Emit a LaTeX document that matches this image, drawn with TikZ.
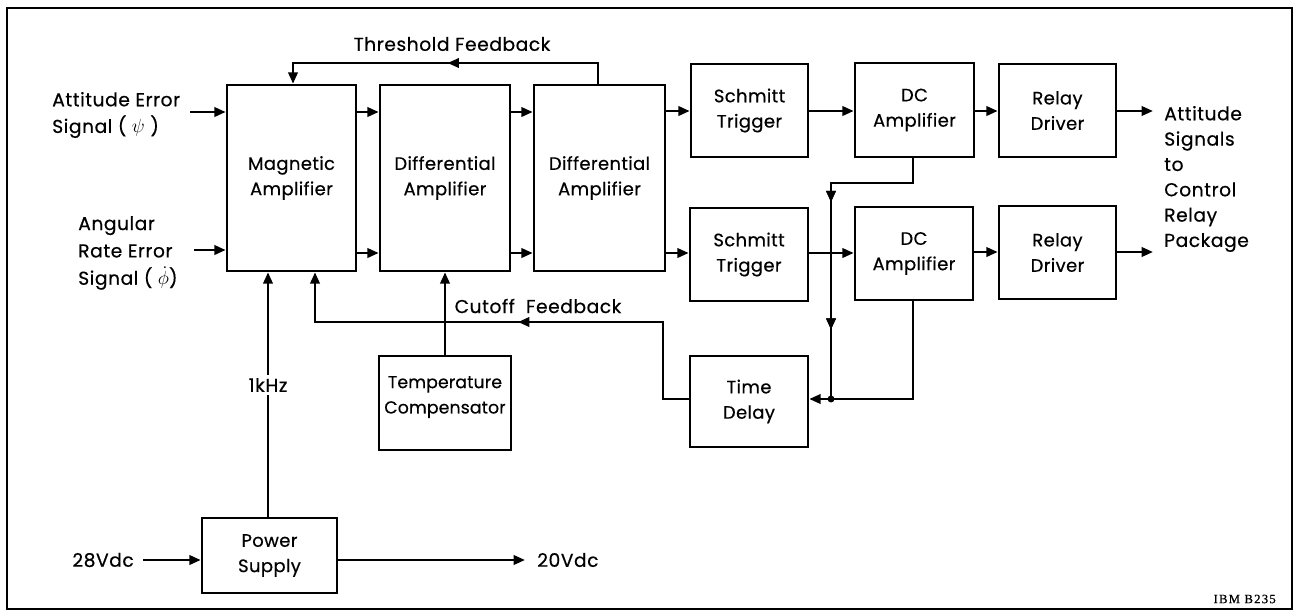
\documentclass[tikz,border=0pt]{standalone}
\usepackage{fontspec}
\setmainfont{Poppins}[FakeBold=0.5]
\newfontfamily\ibmfont{Liberation Serif}[FakeBold=0.8]
\usetikzlibrary{arrows.meta,decorations.markings}
\tikzset{
  blk/.style={draw, line width=1.9pt, inner sep=0pt, align=center, font=\boxlbl},
  arr/.style={line width=1.9pt, -{Triangle[length=8.5pt,width=7pt]}},
  ln/.style={line width=1.9pt},
  midarr/.style={postaction={decorate}, decoration={markings, mark=at position #1 with {\arrow{Triangle[length=8.5pt,width=7pt]}}}},
  txt/.style={inner sep=0pt, font=\lbl},
}
\newcommand{\lbl}{\fontsize{14}{19}\selectfont\addfontfeature{LetterSpace=3}}
\newcommand{\boxlbl}{\fontsize{13.5}{19}\selectfont\addfontfeature{LetterSpace=2}}
\begin{document}
\begin{tikzpicture}[x=0.75pt,y=-0.75pt]
\useasboundingbox (0,0) rectangle (1300,612);
\draw[line width=1.6pt] (7,8) rectangle (1292,609);

% blocks
\node[blk, minimum width=96.75pt, minimum height=139.5pt] (mag) at (291.5,178) {Magnetic\\Amplifier};
\node[blk, minimum width=97.5pt, minimum height=139.5pt] (da1) at (445,178) {Differential\\Amplifier};
\node[blk, minimum width=98.25pt, minimum height=139.5pt] (da2) at (599.5,178) {Differential\\Amplifier};
\node[blk, minimum width=87.75pt, minimum height=69.75pt] (st1) at (749.5,110.5) {Schmitt\\Trigger};
\node[blk, minimum width=89.25pt, minimum height=70.5pt] (dc1) at (914.5,110) {DC\\Amplifier};
\node[blk, minimum width=87.75pt, minimum height=69.75pt] (rd1) at (1057.5,110.5) {Relay\\Driver};
\node[blk, minimum width=88.5pt, minimum height=69.75pt] (st2) at (749,254.5) {Schmitt\\Trigger};
\node[blk, minimum width=88.5pt, minimum height=69.75pt] (dc2) at (914,253.5) {DC\\Amplifier};
\node[blk, minimum width=87.75pt, minimum height=69.75pt] (rd2) at (1057.5,252.5) {Relay\\Driver};
\node[blk, minimum width=88.5pt, minimum height=68.25pt] (td) at (749,401.5) {Time\\Delay};
\node[blk, minimum width=99pt, minimum height=70.5pt] (tc) at (445,403) {};
\node[txt, align=center, font=\fontsize{13}{19}\selectfont\addfontfeature{LetterSpace=0.5}] (tct) at (445,397) {Temperature\\Compensator};
\node[blk, minimum width=101.25pt, minimum height=56.25pt] (ps) at (269.5,555.5) {Power\\Supply};

% labels
\node[txt, anchor=west, align=left, font=\fontsize{14}{20}\selectfont\addfontfeature{LetterSpace=3}] (ain) at (52,115) {Attitude Error\\Signal ( $\psi$ )};
\node[txt, anchor=west, align=left, font=\fontsize{14}{20.5}\selectfont\addfontfeature{LetterSpace=3}] (rin) at (78,253) {Angular\\Rate Error\\Signal ( \smash{$\dot{\phi}$})};
\node[txt, anchor=west, align=left] (outl) at (1164,179) {Attitude\\Signals\\to\\Control\\Relay\\Package};
\node[txt] (thl) at (452,44) {Threshold Feedback};
\node[txt] (cfl) at (538,306) {Cutoff\hspace{0.6em}Feedback};
\node[txt, anchor=east] (v28) at (134,560) {28Vdc};
\node[txt, anchor=west] (v20) at (537,560) {20Vdc};
\node[inner sep=0pt, anchor=east, font=\ibmfont\fontsize{9.5}{10}\selectfont\addfontfeature{LetterSpace=10}] (ibm) at (1276,599) {IBM B235};

% row coordinates
\coordinate (r1) at (0,112);
\coordinate (r2) at (0,253);
\coordinate (q1) at (0,111);
\coordinate (ia) at (190,112);
\coordinate (ib) at (194,250);
\coordinate (o1) at (1153,111);
\coordinate (o2) at (1153,252);
\coordinate (i28) at (143,560);
\coordinate (o20) at (525,560);

% main signal flow
\draw[arr] (ia) -- (mag.west |- ia);
\draw[arr] (ib) -- (mag.west |- ib);
\draw[arr] (mag.east |- r1) -- (da1.west |- r1);
\draw[arr] (mag.east |- r2) -- (da1.west |- r2);
\draw[arr] (da1.east |- r1) -- (da2.west |- r1);
\draw[arr] (da1.east |- r2) -- (da2.west |- r2);
\draw[arr] (da2.east |- q1) -- (st1.west |- q1);
\draw[arr] (da2.east |- r2) -- (st2.west |- r2);
\draw[arr] (st1.east |- q1) -- (dc1.west |- q1);
\draw[arr] (dc1.east |- q1) -- (rd1.west |- q1);
\draw[arr] (rd1.east |- o1) -- (o1);
\draw[arr] (st2.east |- r2) -- (dc2.west |- r2);
\draw[arr] (dc2.east |- o2) -- (rd2.west |- o2);
\draw[arr] (rd2.east |- o2) -- (o2);

% threshold feedback
\coordinate (tfR) at (598,63);
\coordinate (tfL) at (293,63);
\draw[arr, midarr=0.494] (da2.north -| tfR) -- (tfR) -- (tfL) -- (mag.north -| tfL);

% cutoff feedback
\coordinate (cfB) at (663,399);
\coordinate (cfT) at (663,322);
\coordinate (cfL) at (315,322);
\draw[arr, midarr=0.495] (td.west |- cfB) -- (cfB) -- (cfT) -- (cfL) -- (mag.south -| cfL);

% temperature compensator
\draw[arr] (tc.north) -- (da1.south);

% power / 1kHz
\coordinate (pk) at (268,0);
\draw[arr] (ps.north -| pk) -- (mag.south -| pk);
\node[fill=white, inner sep=2pt, font=\lbl] (khz) at (268,385) {1kHz};

% supply in / out
\draw[arr] (i28) -- (ps.west |- i28);
\draw[arr] (ps.east |- o20) -- (o20);

% bus to time delay
\coordinate (bx) at (913,0);
\coordinate (bT) at (913,183);
\coordinate (bL) at (831,183);
\coordinate (bD) at (831,399);
\coordinate (bR) at (913,399);
\draw[ln, midarr=0.39, midarr=0.785] (dc1.south -| bx) -- (bT) -- (bL) -- (bD);
\draw[ln] (dc2.south -| bx) -- (bR) -- (bD);
\draw[arr] (bD) -- (td.east |- bD);
\fill (bD) circle (2.6pt);
\end{tikzpicture}
\end{document}
